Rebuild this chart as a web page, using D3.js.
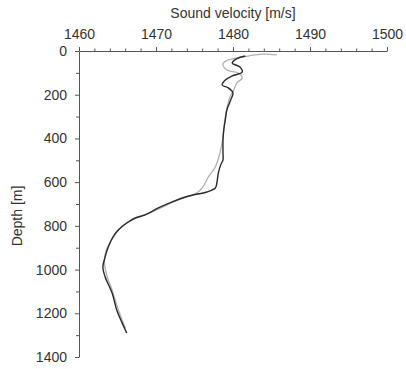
<!DOCTYPE html>
<meta charset="utf-8">
<html>
  <head>
    <style>
      body { margin: 0; background: #fff; }
      text { font-family: "Liberation Sans", Arial, sans-serif; fill: #333; }
      .axis path, .axis line { stroke: #555; }
      .axis text { font-size: 14px; fill: #333; }
    </style>
    <script src="https://d3js.org/d3.v7.min.js"></script>
  </head>
  <body>
<div id="my_dataviz"></div>
<script type="text/javascript">
// two sound velocity profiles
var blackVel = [1481.6, 1480.4, 1479.9, 1480.9, 1481.2, 1479.9, 1479.0, 1478.6, 1479.4, 1480.0,
                1479.7, 1479.2, 1479.0, 1478.8, 1478.7, 1478.7, 1478.7, 1478.4, 1478.1, 1477.9,
                1477.7, 1476.6, 1474.8, 1473.8, 1472.1, 1470.3, 1468.6, 1467.3, 1466.2, 1465.1,
                1464.4, 1463.8, 1463.4, 1463.1, 1463.4, 1464.3, 1464.9, 1465.6, 1466.2];
var blackDepth = [23, 37, 55, 73, 96, 114, 133, 156, 169, 192,
                  224, 270, 316, 361, 407, 467, 499, 521, 558, 604,
                  627, 645, 659, 668, 690, 718, 750, 764, 787, 819,
                  851, 897, 942, 988, 1034, 1107, 1185, 1244, 1290];
var grayVel = [1485.7, 1483.8, 1482.0, 1479.4, 1478.7, 1479.2, 1480.7, 1481.2, 1480.5, 1480.1,
               1479.6, 1479.0, 1478.7, 1478.3, 1477.7, 1476.8, 1476.1, 1475.3, 1473.8, 1472.2,
               1470.5, 1468.8, 1467.5, 1466.4, 1465.3, 1464.3, 1463.5, 1463.3, 1463.6, 1464.3,
               1464.9, 1465.6, 1466.0];
var grayDepth = [18, 14, 23, 41, 59, 87, 101, 124, 146, 178,
                 210, 302, 393, 467, 531, 576, 622, 650, 670, 692,
                 720, 745, 762, 782, 812, 862, 915, 965, 1025, 1093,
                 1162, 1231, 1267];
var velTicks = [1460, 1470, 1480, 1490, 1500];
var depthTicks = [0, 200, 400, 600, 800, 1000, 1200, 1400];

var W = 406, H = 369;
var svg = d3.select("#my_dataviz")
  .append("svg")
  .attr("width", W)
  .attr("height", H);

var x = d3.scaleLinear().domain([1460, 1500]).range([79, 387]);
var y = d3.scaleLinear().domain([0, 1400]).range([51, 357]);

// top axis: minor ticks
svg.append("g")
  .attr("class", "axis")
  .attr("transform", "translate(0," + y(0) + ")")
  .call(d3.axisTop(x).tickValues(d3.range(1460, 1501, 2)).tickSize(2.5).tickFormat(""))
  .select(".domain").remove();
svg.append("g")
  .attr("class", "axis")
  .attr("transform", "translate(0," + y(0) + ")")
  .call(d3.axisTop(x).tickValues(velTicks).tickSizeInner(4).tickSizeOuter(0).tickPadding(8).tickFormat(d3.format("d")));

// left axis
svg.append("g")
  .attr("class", "axis")
  .attr("transform", "translate(" + x(1460) + ",0)")
  .call(d3.axisLeft(y).tickValues(d3.range(100, 1400, 200)).tickSize(3).tickFormat(""))
  .select(".domain").remove();
svg.append("g")
  .attr("class", "axis")
  .attr("transform", "translate(" + x(1460) + ",0)")
  .call(d3.axisLeft(y).tickValues(depthTicks).tickSizeInner(4).tickSizeOuter(0).tickPadding(8).tickFormat(d3.format("d")));

svg.append("text")
  .attr("x", x(1480))
  .attr("y", 18)
  .style("text-anchor", "middle")
  .style("font-size", "14px")
  .text("Sound velocity [m/s]");

svg.append("text")
  .attr("transform", "translate(22," + 216 + ") rotate(-90)")
  .style("text-anchor", "middle")
  .style("font-size", "14px")
  .text("Depth [m]");

var line = d3.line()
  .x(function(d) { return x(d[0]); })
  .y(function(d) { return y(d[1]); })
  .curve(d3.curveCatmullRom.alpha(0.5));

svg.append("path")
  .datum(d3.zip(grayVel, grayDepth))
  .attr("fill", "none")
  .attr("stroke", "#b0b0b0")
  .attr("stroke-width", 1.3)
  .attr("d", line);

svg.append("path")
  .datum(d3.zip(blackVel, blackDepth))
  .attr("fill", "none")
  .attr("stroke", "#2a2a2a")
  .attr("stroke-width", 1.4)
  .attr("d", line);
</script>
</body>
</html>
